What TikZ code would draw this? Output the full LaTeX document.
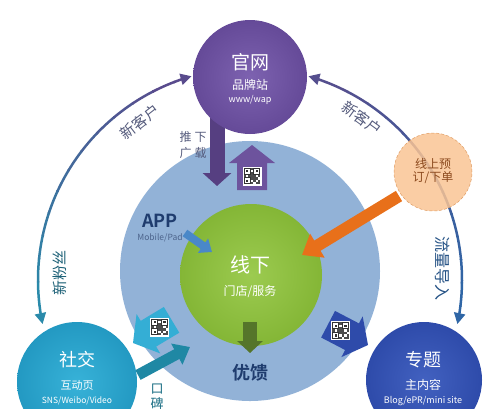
\documentclass[tikz,border=0pt]{standalone}
\usepackage{fontspec}
\setmainfont{Noto Sans CJK SC}
\newfontfamily\heiti{Noto Sans CJK SC Bold}
\usetikzlibrary{arrows.meta,positioning}

\definecolor{gwpurple}{HTML}{654A98}
\definecolor{gwlight}{HTML}{7D62B0}
\definecolor{ringblue}{HTML}{92B2D7}
\definecolor{xxgreen}{HTML}{84B636}
\definecolor{xxlight}{HTML}{9CCB50}
\definecolor{sjcyan}{HTML}{2399C2}
\definecolor{sjlight}{HTML}{37B2D8}
\definecolor{ztblue}{HTML}{2E4BAA}
\definecolor{ztlight}{HTML}{4261C0}
\definecolor{xspeach}{HTML}{F9C494}
\definecolor{xsedge}{HTML}{E09C62}
\definecolor{xsorange}{HTML}{E8701A}
\definecolor{arcpurple}{HTML}{594B8D}
\definecolor{arcteal}{HTML}{2A8AAA}
\definecolor{arcnavy}{HTML}{554F8E}
\definecolor{arcblue}{HTML}{2F66A6}
\definecolor{labgray}{HTML}{555B7C}
\definecolor{appnavy}{HTML}{1F3C6E}
\definecolor{appblue}{HTML}{4A88C8}
\definecolor{yklive}{HTML}{55752A}
\definecolor{kbteal}{HTML}{1F88A4}
\definecolor{xsbrown}{HTML}{8C4A1E}

\tikzset{
  arctip/.tip={Triangle[length=11pt,width=11pt]},
  qr/.pic={
    \fill[white] (-9.5,-9.5) rectangle (9.5,9.5);
    \foreach \p/\q in {0/0,4/0,0/4}{
      \fill[black!80] (-8.4+2.4*\p,-8.4+2.4*\q) rectangle ++(7.2,7.2);
      \fill[white] (-7.2+2.4*\p,-7.2+2.4*\q) rectangle ++(4.8,4.8);
      \fill[black!80] (-6+2.4*\p,-6+2.4*\q) rectangle ++(2.4,2.4);
    }
    \foreach \p/\q in {3/0,3/2,3/3,4/3,6/3,0/3,2/3,3/4,4/4,5/4,4/5,6/5,3/6,5/6,6/6}{
      \fill[black!70] (-8.4+2.4*\p,-8.4+2.4*\q) rectangle ++(2.4,2.4);
    }
  },
  pics/qrarrow/.style={code={
    \fill[#1] (0,0) -- (-18,23) -- (-18,15) -- (-45,15) -- (-45,-15) -- (-18,-15) -- (-18,-23) -- cycle;
    \pic at (-31,0) {qr};
  }},
}

\begin{document}
\begin{tikzpicture}
[x=1pt,y=-1pt,
 ball/.style={circle,inner sep=0pt},
 fs/.style={font=\fontsize{#1}{#1}\selectfont},
 bfs/.style={font=\heiti\fontsize{#1}{#1}\selectfont},
 arcline/.style={line width=2.5pt},
 fat/.style={line width=#1},
]
\clip (0,0) rectangle (500,408);

% ring and offline core
\node (ring) at (250,271)[ball,minimum size=260pt,fill=ringblue]{};
\node (xx) at (251,275)[ball,minimum size=142pt,inner color=xxlight,outer color=xxgreen]{};

% outer arcs
\coordinate (ctr) at (250,280);
\path (ctr) ++(168:212) coordinate (ls);
\path (ctr) ++(286:212) coordinate (rs);
\foreach \i in {0,...,11}{
  \pgfmathsetmacro\aa{173+\i*6.333}
  \pgfmathsetmacro\mix{\i*9.09}
  \draw[arcline,color=arcpurple!\mix!arcteal] (ctr) ++(\aa:212) arc[start angle=\aa,delta angle=6.6,radius=212];
}
\draw[arcline,arcteal,{arctip}-] (ls) arc[start angle=168,delta angle=5.2,radius=212];
\draw[arcline,arcpurple,-{arctip}] (ctr) ++(248.8:212) arc[start angle=248.8,end angle=254,radius=212];
\foreach \i in {0,...,11}{
  \pgfmathsetmacro\aa{291+\i*6.333}
  \pgfmathsetmacro\mix{\i*9.09}
  \draw[arcline,color=arcblue!\mix!arcnavy] (ctr) ++(\aa:212) arc[start angle=\aa,delta angle=6.6,radius=212];
}
\draw[arcline,arcnavy,{arctip}-] (rs) arc[start angle=286,delta angle=5.2,radius=212];
\draw[arcline,arcblue,-{arctip}] (ctr) ++(366.8:212) arc[start angle=366.8,end angle=372,radius=212];

% arrows round the ring
\coordinate (tui1) at (217,118);
\coordinate (tui2) at (217,186);
\draw[fat=15pt,gwpurple!85!black,-{Triangle[length=13pt,width=28pt]}] (tui1) -- (tui2);
\pic[rotate=90] at (252,145) {qrarrow=gwpurple!95!white};
\coordinate (app1) at (185,233);
\coordinate (app2) at (212,252);
\draw[fat=8pt,appblue,-{Triangle[length=11pt,width=17pt]}] (app1) -- (app2);
\coordinate (yk1) at (250,322);
\coordinate (yk2) at (250,353);
\draw[fat=14pt,yklive,-{Triangle[length=12pt,width=25pt]}] (yk1) -- (yk2);
\coordinate (kb1) at (138,375);
\coordinate (kb2) at (190,347);
\draw[fat=11pt,kbteal,-{Triangle[length=15pt,width=23pt]}] (kb1) -- (kb2);
\pic[rotate=-149] at (133,343) {qrarrow=sjlight!85!sjcyan};
\pic[rotate=-27.5] at (368,345) {qrarrow=ztblue};

% outer circles
\node (gw) at (250,77)[ball,minimum size=114pt,inner color=gwlight,outer color=gwpurple]{};
\node (sj) at (77,382)[ball,minimum size=120pt,inner color=sjlight,outer color=sjcyan]{};
\node (zt) at (424,380)[ball,minimum size=116pt,inner color=ztlight,outer color=ztblue]{};
\node (xs) at (433,172)[ball,minimum size=78pt,fill=xspeach,fill opacity=.85,draw=xsedge,densely dashed,line width=.5pt]{};
\coordinate (or1) at (399,196);
\coordinate (or2) at (302,255);
\draw[fat=12pt,xsorange,-{Triangle[length=18pt,width=27pt]}] (or1) -- (or2);

% texts
\node (gwt) at (250,62)[fs=19,white]{官网};
\node (gws) at (250,85)[fs=12,white]{品牌站};
\node (gwe) at (250,100)[fs=9,white]{www/wap};
\node (xxt) at (250,265)[fs=20,white]{线下};
\node (xxs) at (250,292)[fs=12,white]{门店/服务};
\node (sjt) at (77,360)[fs=18,white]{社交};
\node (sjs) at (77,385)[fs=11,white]{互动页};
\node (sje) at (77,401)[fs=8.5,white]{SNS/Weibo/Video};
\node (ztt) at (423,360)[fs=18,white]{专题};
\node (zts) at (423,385)[fs=12,white]{主内容};
\node (zte) at (423,401)[fs=9,white]{Blog/ePR/mini site};
\node (xst) at (433,171)[fs=12,xsbrown,align=center]{线上预\\[1pt]订/下单};
\node (appt) at (160,221)[bfs=18,appnavy]{APP};
\node (apps) at (160,238)[fs=8.5,appnavy!80]{Mobile/Pad};
\node (ykt) at (250,373)[bfs=18,appnavy]{优馈};
\node (tuit) at (193,145)[fs=12,labgray,align=center]{推\hspace{3pt}下\\[4pt]广\hspace{3pt}载};
\node (kbt) at (157,397)[fs=13,kbteal!80!black,align=center]{口\\[2pt]碑};
\node (lnew) at (140,122)[fs=15,labgray,rotate=38]{新客户};
\node (rnew) at (362,118)[fs=15,labgray,rotate=-36]{新客户};
\node (fans) at (60,273)[fs=15,arcteal!70!black,rotate=90]{新粉丝};
\node (flow) at (443,268)[fs=16,arcblue!80!black,rotate=-90]{流量导入};
\end{tikzpicture}
\end{document}
